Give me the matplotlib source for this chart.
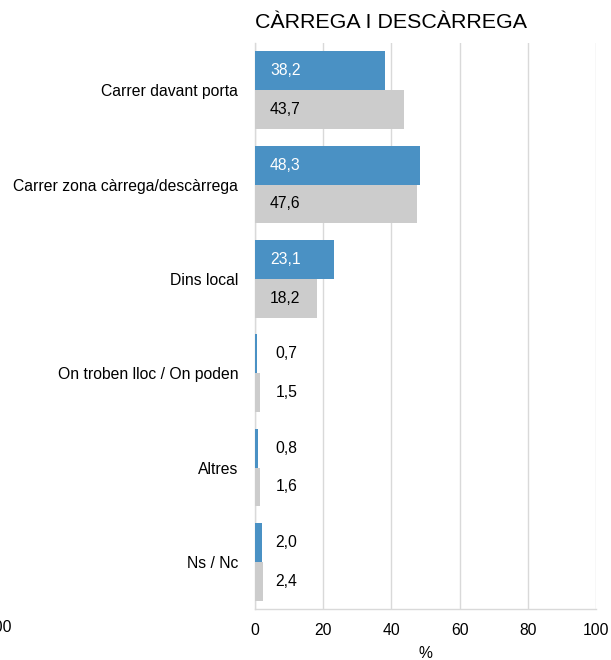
import matplotlib
matplotlib.use("Agg")
import matplotlib.pyplot as plt
import numpy as np

plt.rcParams['font.family'] = ['Liberation Sans', 'DejaVu Sans']

categories = ["Carrer davant porta", "Carrer zona càrrega/descàrrega", "Dins local",
              "On troben lloc / On poden", "Altres", "Ns / Nc"]
series_a = [38.2, 48.3, 23.1, 0.7, 0.8, 2.0]
series_b = [43.7, 47.6, 18.2, 1.5, 1.6, 2.4]
xticks = [0, 20, 40, 60, 80, 100]

blue = "#4A91C4"
gray = "#CCCCCC"
fs = 11.3

fig = plt.figure(figsize=(6.11, 6.6), dpi=100)
ax = fig.add_axes([255/611, 1-609/660, (596-255)/611, (609-43)/660])

y = np.arange(len(categories))
h = 0.41
ax.barh(y - h/2, series_a, height=h, color=blue, zorder=3)
ax.barh(y + h/2, series_b, height=h, color=gray, zorder=3)

def fmt(v):
    return f"{v:.1f}".replace(".", ",")

for i, (a, b) in enumerate(zip(series_a, series_b)):
    for v, yy, c in ((a, i - h/2, "white"), (b, i + h/2, "black")):
        if v > 10:
            ax.text(4.4, yy, fmt(v), va="center", ha="left", fontsize=fs, color=c, zorder=4)
        else:
            ax.text(6.0, yy, fmt(v), va="center", ha="left", fontsize=fs, color="black", zorder=4)

ax.set_xlim(0, 100)
ax.set_ylim(len(categories) - 0.5, -0.5)
ax.set_yticks(y)
ax.set_yticklabels(categories, fontsize=fs)
ax.set_xticks(xticks)
ax.set_xticklabels([str(t) for t in xticks], fontsize=fs)
ax.tick_params(axis="x", length=0, pad=10)
ax.tick_params(axis="y", length=0, pad=12)
ax.grid(axis="x", color="#D9D9D9", linewidth=1, zorder=0)
for s in ["top", "right"]:
    ax.spines[s].set_visible(False)
for s in ["left", "bottom"]:
    ax.spines[s].set_color("#D9D9D9")
    ax.spines[s].set_linewidth(1)

fig.text(425/611, 1-653/660, "%", fontsize=fs, ha="center", va="center")
fig.text(255/611, 1-22/660, "CÀRREGA I DESCÀRREGA", fontsize=15.4, ha="left", va="center")
fig.text(12/611, 1-628/660, "100", fontsize=fs, ha="right", va="center")

fig.savefig("out.png", dpi=100)
